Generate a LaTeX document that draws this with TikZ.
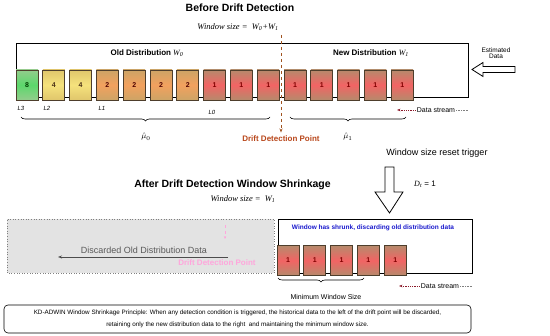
\documentclass[tikz,border=0pt]{standalone}
\usepackage{fontspec}
\setmainfont{Liberation Serif}
\setsansfont{Liberation Sans}
\usepackage{amsmath}
\usetikzlibrary{arrows.meta,positioning,decorations.pathreplacing,calc}
\definecolor{gEdge}{HTML}{93CC8C}
\definecolor{gMid}{HTML}{5CD86C}
\definecolor{yEdge}{HTML}{E0C66C}
\definecolor{yMid}{HTML}{F5E27C}
\definecolor{oEdge}{HTML}{CDA466}
\definecolor{oMid}{HTML}{F2A15E}
\definecolor{rEdge}{HTML}{B68A6C}
\definecolor{rMid}{HTML}{F26464}
\definecolor{boxline}{HTML}{4E3E2C}
\definecolor{driftcol}{HTML}{A0521E}
\definecolor{driftlab}{HTML}{B8461A}
\definecolor{dscol}{HTML}{8B1A2A}
\definecolor{ghost}{HTML}{FFA6DC}
\definecolor{shrunkblue}{HTML}{1A1ACC}
\newcommand{\fsz}[1]{\fontsize{#1}{#1}\selectfont}
\newcommand{\wsub}[1]{{\rmfamily\mdseries\itshape W\textsubscript{#1}}}
\tikzset{
  dbox/.style={draw=boxline, line width=0.8pt, minimum width=22pt, minimum height=30pt, inner sep=0pt, font=\sffamily\bfseries\fsz{7}},
  b8/.style={dbox, top color=gEdge, bottom color=gEdge, middle color=gMid, text=green!25!black},
  b4/.style={dbox, top color=yEdge, bottom color=yEdge, middle color=yMid, text=brown!40!black},
  b2/.style={dbox, top color=oEdge, bottom color=oEdge, middle color=oMid, text=red!30!black},
  b1/.style={dbox, top color=rEdge, bottom color=rEdge, middle color=rMid, text=red!50!black},
  wintitle/.style={font=\sffamily\bfseries\fsz{10.5}},
  wsize/.style={font=\itshape\fsz{8.5}},
  distlab/.style={font=\sffamily\bfseries\fsz{8}},
  llab/.style={font=\sffamily\itshape\fsz{6}},
  smalltxt/.style={font=\sffamily\fsz{7}},
  frame/.style={line width=0.9pt},
  brc/.style={decorate, decoration={brace, mirror, amplitude=4pt}, line width=0.6pt},
  driftln/.style={-{Stealth[length=4pt]}, dashed, line width=1pt, driftcol},
  dsarrow/.style={-{Stealth[length=3.5pt]}, densely dotted, line width=0.8pt, dscol},
  dstail/.style={densely dotted, line width=0.6pt, gray},
  hollow/.style={draw, line width=0.8pt, fill=white},
}

\begin{document}
\begin{tikzpicture}[x=1pt, y=1pt]
\useasboundingbox (0,0) rectangle (550,336);
% --- Before drift detection: titles ---
\node[wintitle] (t1) at (240,328) {Before Drift Detection};
\node[wsize] (ws1) at (238,309) {Window size = \ W\textsubscript{0}+W\textsubscript{1}};
% --- window frame ---
\draw[frame] (16,239) rectangle (468,293);
\node[distlab] (old) at (147,283) {Old Distribution \wsub{0}};
\node[distlab] (new) at (371,283) {New Distribution \wsub{1}};
% --- old distribution buckets ---
\node[b8] (o1) at (27,251) {8};
\node[b4] (o2) at (53.8,251) {4};
\node[b4] (o3) at (80.6,251) {4};
\node[b2] (o4) at (107.4,251) {2};
\node[b2] (o5) at (134.2,251) {2};
\node[b2] (o6) at (161,251) {2};
\node[b2] (o7) at (187.8,251) {2};
\node[b1] (o8) at (214.6,251) {1};
\node[b1] (o9) at (241.4,251) {1};
\node[b1] (o10) at (268.2,251) {1};
% --- new distribution buckets ---
\node[b1] (n1) at (295,251) {1};
\node[b1] (n2) at (321.8,251) {1};
\node[b1] (n3) at (348.6,251) {1};
\node[b1] (n4) at (375.4,251) {1};
\node[b1] (n5) at (402.2,251) {1};
% --- level labels ---
\node[llab] (l3) at (21,228) {L3};
\node[llab] (l2) at (47,228) {L2};
\node[llab] (l1) at (102,228) {L1};
\node[llab] (l0) at (212,224) {L0};
% --- braces and means ---
\coordinate (bo1) at (21,219);
\coordinate (bo2) at (270,219);
\coordinate (bn1) at (290,219);
\coordinate (bn2) at (406,219);
\draw[brc] (bo1) -- (bo2);
\draw[brc] (bn1) -- (bn2);
\node[font=\fsz{8}] (mu0) at (146,199) {$\hat{\mu}_0$};
\node[font=\fsz{8}] (mu1) at (348,199) {$\hat{\mu}_1$};
% --- drift detection point ---
\coordinate (dtop) at (281,301);
\node[font=\sffamily\bfseries\fsz{8}, text=driftlab] (dlab) at (281,197) {Drift Detection Point};
\draw[driftln] (dtop) -- (dlab.north);
% --- data stream (top) ---
\node[smalltxt, inner sep=1pt] (ds1) at (436,226) {Data stream};
\coordinate (ds1tip) at (397,226);
\coordinate (ds1end) at (468,226);
\draw[dsarrow] (ds1.west) -- (ds1tip);
\draw[dstail] (ds1.east) -- (ds1end);
% --- estimated data ---
\node[font=\sffamily\fsz{6.5}, align=center] (est) at (496,283) {Estimated\\[-1pt]Data};
\draw[hollow] (472,266.5) -- (483,273.5) -- (483,269.5) -- (515,269.5) -- (515,263.5) -- (483,263.5) -- (483,259.5) -- cycle;
% --- reset trigger ---
\node[font=\sffamily\fsz{9}] (trig) at (437,183) {Window size reset trigger};
\draw[hollow] (385,169) -- (394,169) -- (394,144) -- (403,144) -- (389.5,123) -- (375,144) -- (385,144) -- cycle;
\node[font=\sffamily\fsz{8}] (dt) at (425,152) {{\rmfamily\itshape D\textsubscript{t}} = 1};
% --- After drift detection: titles ---
\node[wintitle] (t2) at (232.5,151) {After Drift Detection Window Shrinkage};
\node[wsize] (ws2) at (243,137) {Window size = \ W\textsubscript{1}};
% --- discarded region ---
\draw[dotted, draw=gray, fill=gray!22, line width=0.6pt] (7,63) rectangle (274,117);
\node[font=\sffamily\fsz{9}, text=black!65] (disc) at (144,86) {Discarded Old Distribution Data};
\coordinate (discS) at (228,79);
\coordinate (discE) at (58,79);
\draw[-{Stealth[length=4pt]}, line width=0.9pt, black!70] (discS) -- (discE);
\coordinate (gtop) at (225,111);
\coordinate (gbot) at (225,97);
\draw[-{Stealth[length=3pt]}, dashed, line width=0.7pt, ghost] (gtop) -- (gbot);
\node[font=\sffamily\bfseries\fsz{8}, text=ghost] (glab) at (217,73) {Drift Detection Point};
% --- shrunk window ---
\draw[frame] (278,63) rectangle (472,117);
\node[font=\sffamily\bfseries\fsz{6.5}, text=shrunkblue] (shr) at (373,108) {Window has shrunk, discarding old distribution data};
\node[b1] (s1) at (288,75.5) {1};
\node[b1] (s2) at (314.8,75.5) {1};
\node[b1] (s3) at (341.6,75.5) {1};
\node[b1] (s4) at (368.4,75.5) {1};
\node[b1] (s5) at (395.2,75.5) {1};
\coordinate (bs1) at (278,58);
\coordinate (bs2) at (364,58);
\draw[brc] (bs1) -- (bs2);
\node[smalltxt] (minw) at (326,39) {Minimum Window Size};
% --- data stream (bottom) ---
\node[smalltxt, inner sep=1pt] (ds2) at (440,50) {Data stream};
\coordinate (ds2tip) at (399,50);
\coordinate (ds2end) at (472,50);
\draw[dsarrow] (ds2.west) -- (ds2tip);
\draw[dstail] (ds2.east) -- (ds2end);
% --- principle note ---
\node[draw, rounded corners=4pt, line width=0.6pt, minimum width=467pt, minimum height=28pt, align=center, font=\sffamily\fontsize{6.3}{12.5}\selectfont] (note) at (237.5,17) {KD-ADWIN Window Shrinkage Principle: When any detection condition is triggered, the historical data to the left of the drift point will be discarded,\\retaining only the new distribution data to the right \ and maintaining the minimum window size.};
\end{tikzpicture}
\end{document}
